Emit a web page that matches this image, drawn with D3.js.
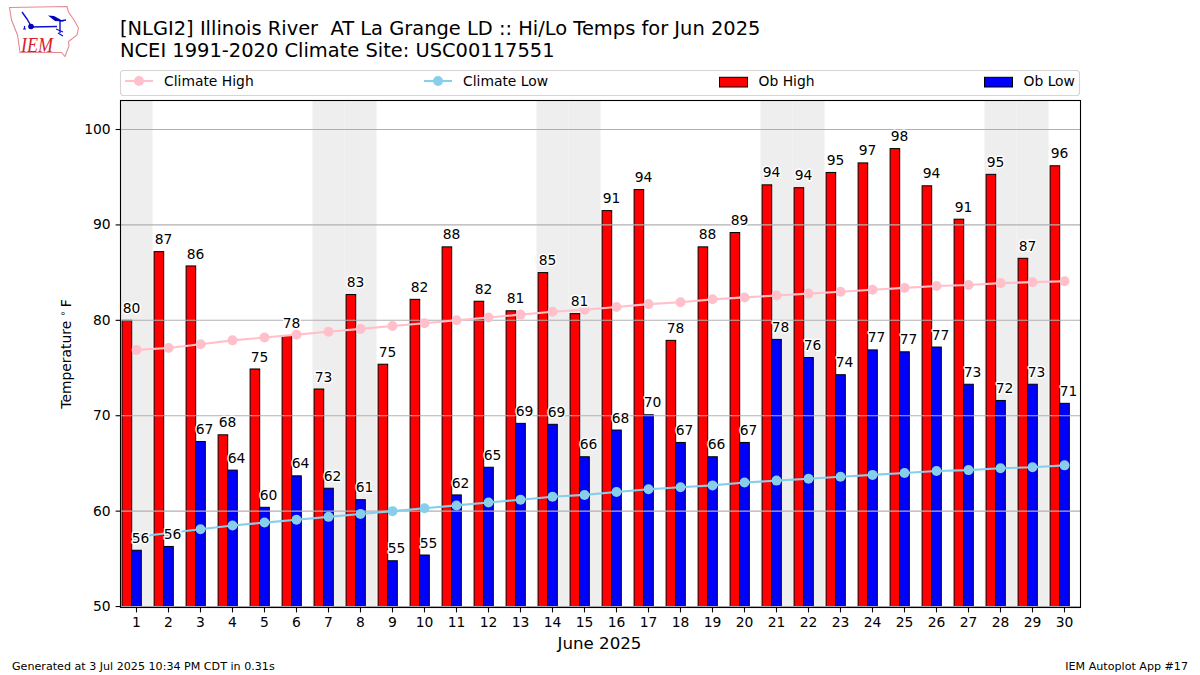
<!DOCTYPE html>
<html>
<head>
<meta charset="utf-8">
<script src="https://cdn.jsdelivr.net/npm/d3@7"></script>
<style>
  body { margin: 0; background: #fff; }
  text { font-family: "DejaVu Sans", sans-serif; fill: #000; }
</style>
</head>
<body>
<svg id="chart" width="1200" height="675"></svg>
<script>
const days = d3.range(1, 31)
const weekendDays = [1, 7, 8, 14, 15, 21, 22, 28, 29]

const obHigh = [80, 87.2, 85.7, 68, 74.9, 78.4, 72.8, 82.7, 75.4, 82.2, 87.7, 82, 81, 85, 80.7,
  91.5, 93.7, 77.9, 87.7, 89.2, 94.2, 93.9, 95.5, 96.5, 98, 94.1, 90.6, 95.3, 86.5, 96.2]
const obLow = [55.9, 56.3, 67.3, 64.3, 60.4, 63.7, 62.4, 61.2, 54.8, 55.4, 61.7, 64.6, 69.2, 69.1, 65.7,
  68.5, 70.1, 67.2, 65.7, 67.2, 78, 76.1, 74.3, 76.9, 76.7, 77.2, 73.3, 71.6, 73.3, 71.3]
const highLabels = [80, 87, 86, 68, 75, 78, 73, 83, 75, 82, 88, 82, 81, 85, 81,
  91, 94, 78, 88, 89, 94, 94, 95, 97, 98, 94, 91, 95, 87, 96]
const lowLabels = [56, 56, 67, 64, 60, 64, 62, 61, 55, 55, 62, 65, 69, 69, 66,
  68, 70, 67, 66, 67, 78, 76, 74, 77, 77, 77, 73, 72, 73, 71]
const climateHigh = [76.9, 77.1, 77.5, 77.9, 78.2, 78.5, 78.8, 79.1, 79.4, 79.7, 80, 80.3, 80.6, 80.9, 81.1,
  81.4, 81.7, 81.9, 82.2, 82.4, 82.6, 82.8, 83, 83.2, 83.4, 83.6, 83.7, 83.9, 84, 84.1]
const climateLow = [57.3, 57.7, 58.1, 58.5, 58.8, 59.1, 59.4, 59.7, 60, 60.3, 60.6, 60.9, 61.2, 61.5, 61.7,
  62, 62.3, 62.5, 62.7, 63, 63.2, 63.4, 63.6, 63.8, 64, 64.2, 64.3, 64.5, 64.6, 64.8]
const yTicks = [50, 60, 70, 80, 90, 100]

const plotL = 120.5, plotR = 1080.5, plotT = 100.5, plotB = 607.5
const svg = d3.select('#chart')

let x = d3.scaleLinear().domain([0.5, 30.5]).range([plotL, plotR])
let y = d3.scaleLinear().domain([49.9, 103.04]).range([plotB, plotT])
let barW = x(0.3) - x(0)
let shift = x(0.15) - x(0)

svg.append('defs').append('clipPath').attr('id', 'plot')
  .append('rect').attr('x', plotL).attr('y', plotT).attr('width', plotR - plotL).attr('height', plotB - plotT)

let plot = svg.append('g').attr('clip-path', 'url(#plot)')

// weekend shading
plot.selectAll('rect.shade')
  .data(weekendDays)
  .join('rect')
  .attr('class', 'shade')
  .attr('x', d => x(d - 0.5))
  .attr('width', x(1) - x(0))
  .attr('y', plotT)
  .attr('height', plotB - plotT)
  .attr('fill', '#eeeeee')

function bars(values, xOf, color) {
  plot.selectAll(null)
    .data(values)
    .join('rect')
    .attr('x', (d, i) => xOf(days[i]))
    .attr('width', barW)
    .attr('y', d => y(d))
    .attr('height', d => plotB + 5 - y(d))
    .attr('fill', color)
    .attr('stroke', '#000')
    .attr('stroke-width', 1)
}
bars(obHigh, d => x(d) - shift - barW, '#ff0000')
bars(obLow, d => x(d) - shift, '#0000ff')

// grid sits on top of the bars
plot.selectAll('line.grid')
  .data(yTicks)
  .join('line')
  .attr('class', 'grid')
  .attr('x1', plotL).attr('x2', plotR)
  .attr('y1', d => y(d)).attr('y2', d => y(d))
  .attr('stroke', '#b0b0b0')
  .attr('stroke-width', 1.1)

function climate(values, color) {
  let line = d3.line().x((d, i) => x(days[i])).y(d => y(d))
  plot.append('path')
    .attr('d', line(values))
    .attr('fill', 'none')
    .attr('stroke', color)
    .attr('stroke-width', 2.1)
  plot.selectAll(null)
    .data(values)
    .join('circle')
    .attr('cx', (d, i) => x(days[i]))
    .attr('cy', d => y(d))
    .attr('r', 5)
    .attr('fill', color)
}
climate(climateHigh, '#ffc0cb')
climate(climateLow, '#87ceeb')

function barLabels(values, labels, dx) {
  svg.selectAll(null)
    .data(values)
    .join('text')
    .attr('x', (d, i) => x(days[i]) + dx)
    .attr('y', d => y(d) - 7.4)
    .attr('text-anchor', 'middle')
    .attr('font-size', 13.89)
    .attr('stroke', '#fff')
    .attr('stroke-width', 3)
    .attr('paint-order', 'stroke')
    .style('stroke-linejoin', 'round')
    .text((d, i) => labels[i])
}
barLabels(obHigh, highLabels, -5)
barLabels(obLow, lowLabels, 4)

// axes
let yAxis = d3.axisLeft(y).tickValues(yTicks).offset(0).tickSizeOuter(0).tickSizeInner(4.9).tickPadding(4.9)
let yG = svg.append('g').attr('transform', `translate(${plotL},0)`).call(yAxis)
let xAxis = d3.axisBottom(x).tickValues(days).offset(0).tickFormat(d3.format('d')).tickSizeOuter(0).tickSizeInner(4.9).tickPadding(5)
let xG = svg.append('g').attr('transform', `translate(0,${plotB})`).call(xAxis)
for (let g of [xG, yG]) {
  g.selectAll('.domain').remove()
  g.selectAll('text').attr('font-size', 13.89).attr('font-family', '"DejaVu Sans"').attr('fill', '#000')
  g.selectAll('line').attr('stroke', '#000').attr('stroke-width', 1.1)
}

svg.append('rect')
  .attr('x', plotL).attr('y', plotT).attr('width', plotR - plotL).attr('height', plotB - plotT)
  .attr('fill', 'none').attr('stroke', '#000').attr('stroke-width', 1.1)

svg.append('text').attr('x', 599.5).attr('y', 649).attr('text-anchor', 'middle')
  .attr('font-size', 16.67).text('June 2025')

let yLabel = svg.append('text')
  .attr('transform', 'translate(71,354) rotate(-90)')
  .attr('text-anchor', 'middle')
  .attr('font-size', 13.89)
yLabel.append('tspan').text('Temperature ')
yLabel.append('tspan').attr('font-size', 9.7).attr('dy', -5).text('∘')
yLabel.append('tspan').attr('dy', 5).attr('dx', 3).text('F')

// title
svg.append('text').attr('x', 120).attr('y', 35.4).attr('font-size', 19.44)
  .attr('xml:space', 'preserve').style('white-space', 'pre')
  .text('[NLGI2] Illinois River  AT La Grange LD :: Hi/Lo Temps for Jun 2025')
svg.append('text').attr('x', 120).attr('y', 57.4).attr('font-size', 19.44)
  .text('NCEI 1991-2020 Climate Site: USC00117551')

// legend
svg.append('rect')
  .attr('x', 120.5).attr('y', 70.5).attr('width', 959).attr('height', 25).attr('rx', 3)
  .attr('fill', '#fff').attr('stroke', '#d5d5d5').attr('stroke-width', 1.1)

function legendLine(x0, color, label) {
  svg.append('line').attr('x1', x0).attr('x2', x0 + 28).attr('y1', 81).attr('y2', 81)
    .attr('stroke', color).attr('stroke-width', 2.1)
  svg.append('circle').attr('cx', x0 + 14).attr('cy', 81).attr('r', 5).attr('fill', color)
  svg.append('text').attr('x', x0 + 39).attr('y', 86).attr('font-size', 13.89).text(label)
}
function legendBar(x0, color, label) {
  svg.append('rect').attr('x', x0).attr('y', 77.3).attr('width', 28).attr('height', 9.7)
    .attr('fill', color).attr('stroke', '#000').attr('stroke-width', 1)
  svg.append('text').attr('x', x0 + 39).attr('y', 86).attr('font-size', 13.89).text(label)
}
legendLine(125, '#ffc0cb', 'Climate High')
legendLine(424, '#87ceeb', 'Climate Low')
legendBar(719.5, '#ff0000', 'Ob High')
legendBar(984.5, '#0000ff', 'Ob Low')

// footer
svg.append('text').attr('x', 12).attr('y', 670).attr('font-size', 11.11)
  .text('Generated at 3 Jul 2025 10:34 PM CDT in 0.31s')
svg.append('text').attr('x', 1188).attr('y', 670).attr('text-anchor', 'end').attr('font-size', 11.11)
  .text('IEM Autoplot App #17')

// IEM logo
let logo = svg.append('g')
logo.append('path')
  .attr('d', 'M9.5,7.5 L67,6.5 L68.5,12 L74,20 L78.5,28 L77,35 L68.5,41.5 L69,46 L65,56.5 L61.5,52.5 L20,52.5 L17.5,35 L11.5,20 Z')
  .attr('fill', 'none').attr('stroke', '#e58a90').attr('stroke-width', 1.1)
logo.append('path')
  .attr('d', 'M31,27 L57,26.5 M22,12 L27,19 L31,26 M60,21 L60,33 M60,21 L66,20')
  .attr('fill', 'none').attr('stroke', '#1010d0').attr('stroke-width', 1.4)
logo.append('circle').attr('cx', 31).attr('cy', 26.5).attr('r', 2.8).attr('fill', '#0000c0')
logo.append('path').attr('d', 'M48,15.5 L54,16 L64,21.5 L55,21 Z').attr('fill', '#0000c0')
logo.append('path').attr('d', 'M56,29 L63,32 M58,33 L63,36').attr('stroke', '#1010d0').attr('stroke-width', 1.2)
logo.append('path').attr('d', 'M23,29 L26,29 M24.5,26 L24.5,29').attr('stroke', '#1010d0').attr('stroke-width', 1.2)
logo.append('text').attr('x', 21).attr('y', 52).attr('font-size', 21.5)
  .attr('textLength', 32).attr('lengthAdjust', 'spacingAndGlyphs')
  .attr('font-style', 'italic').style('font-family', '"Liberation Serif"').style('fill', '#d8222a').text('IEM')
</script>
</body>
</html>
